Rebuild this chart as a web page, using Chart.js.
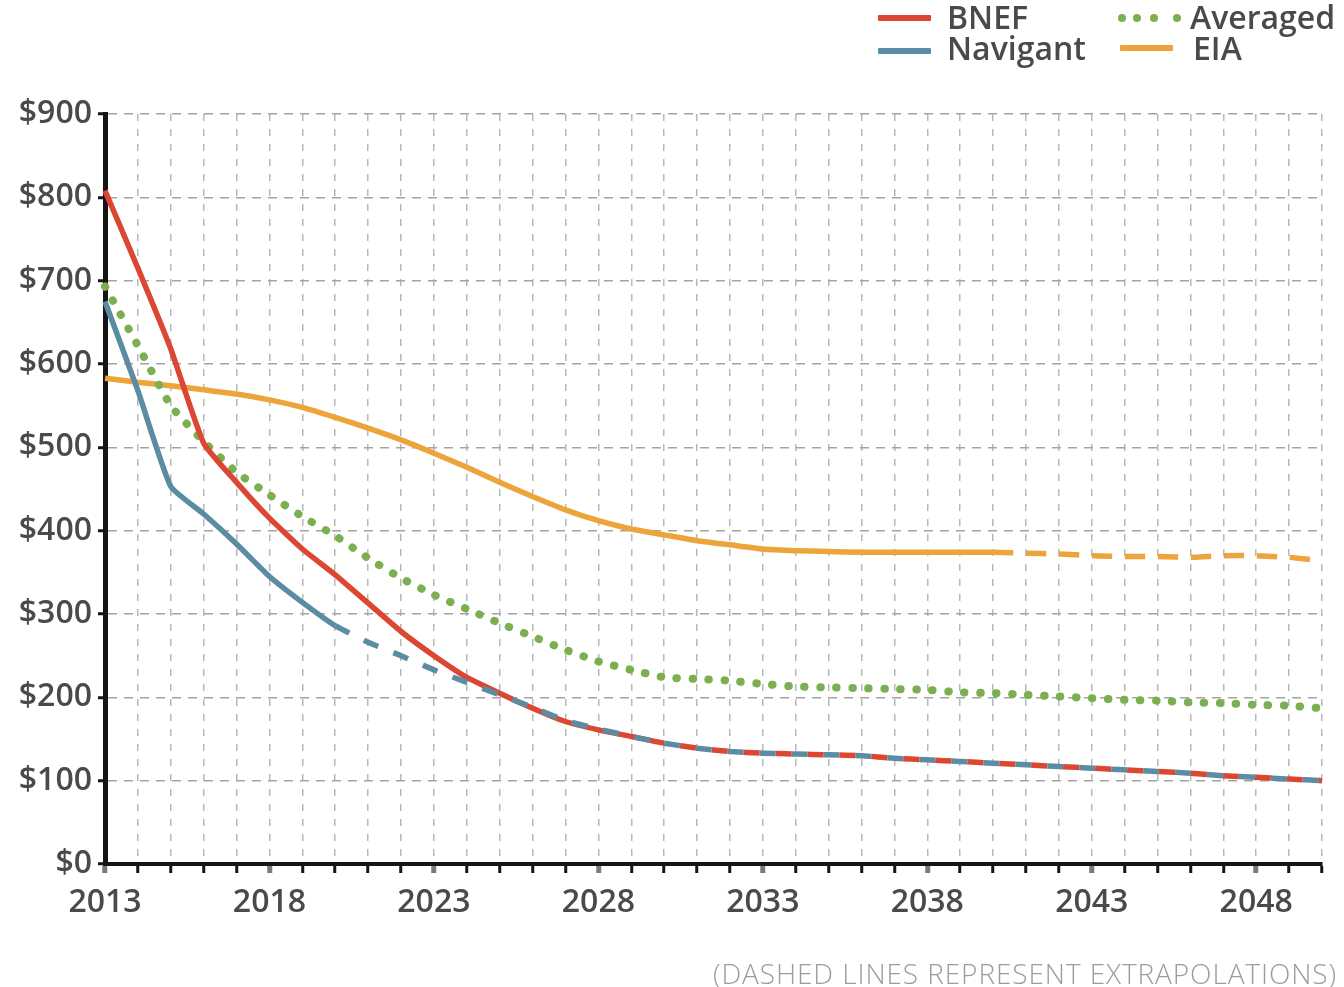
<!DOCTYPE html>
<html>
<head>
<meta charset="utf-8">
<title>Battery pack cost forecasts</title>
<script src="https://cdn.jsdelivr.net/npm/chart.js@4.4.1/dist/chart.umd.min.js"></script>
<style>
  html, body { margin: 0; padding: 0; background: #fff; }
  #wrap { position: relative; width: 1344px; height: 987px; overflow: hidden; background: #fff; }
  #chart { position: absolute; left: 0; top: 0; }
  .lg-text { position: absolute; font-family: 'Open Sans', sans-serif; font-weight: 600;
             font-size: 32px; line-height: 32px; color: #4a4a4a; white-space: nowrap; }
  .lg-line { position: absolute; height: 6px; border-radius: 1px; }
  .lg-dot { position: absolute; width: 8px; height: 8px; border-radius: 50%; }
  #note { position: absolute; right: 7px; top: 959px; font-family: 'Open Sans', sans-serif;
          font-weight: 300; font-size: 28px; line-height: 28px; letter-spacing: 0.9px;
          color: #9c9c9c; white-space: nowrap; }
</style>
</head>
<body>
<div id="wrap">
  <canvas id="chart" width="1344" height="987"></canvas>
  <div id="legend"></div>
  <div id="note">(DASHED LINES REPRESENT EXTRAPOLATIONS)</div>
</div>
<script>
// Years on the x axis
const years = [2013, 2014, 2015, 2016, 2017, 2018, 2019, 2020, 2021, 2022,
               2023, 2024, 2025, 2026, 2027, 2028, 2029, 2030, 2031, 2032,
               2033, 2034, 2035, 2036, 2037, 2038, 2039, 2040, 2041, 2042,
               2043, 2044, 2045, 2046, 2047, 2048, 2049, 2050];

// Cost per kWh, one value per year
const bnef     = [808, 715, 618, 505, 458, 415, 378, 347, 313, 279,
                  250, 224, 205, 187, 171, 161, 153, 145, 139, 135,
                  133, 132, 131, 130, 127, 125, 123, 121, 119, 117,
                  115, 113, 111, 109, 106, 104, 102, 100];
const navigant = [675, 568, 453, 420, 384, 345, 314, 286, 266, 250,
                  233, 218, 203, 188, 172, 162, 153, 145, 139, 135,
                  133, 132, 131, 130, 127, 125, 123, 121, 119, 117,
                  115, 113, 111, 109, 106, 104, 102, 100];
const averaged = [693, 622, 550, 507, 470, 443, 417, 394, 367, 343,
                  323, 306, 289, 273, 257, 243, 233, 224, 222, 220,
                  216, 213, 212, 211, 210, 209, 206, 205, 203, 201,
                  199, 197, 196, 194, 193, 191, 190, 187];
const eia      = [583, 578, 574, 569, 564, 557, 548, 536, 523, 509,
                  493, 476, 458, 441, 425, 412, 402, 395, 388, 383,
                  378, 376, 375, 374, 374, 374, 374, 374, 373, 372,
                  370, 369, 369, 368, 370, 370, 368, 364];

// First year of each extrapolated (dashed) stretch
const bnefExtrapFrom = 2030;
const navigantExtrapFrom = 2020;
const eiaExtrapFrom = 2040;

// Labelled years and value ticks
const yearLabels = [2013, 2018, 2023, 2028, 2033, 2038, 2043, 2048];
const costTicks = [0, 100, 200, 300, 400, 500, 600, 700, 800, 900];

const colors = { bnef: '#dc4733', navigant: '#5c8ca3', averaged: '#7caf4f', eia: '#eca43b' };

const tickFont = { family: "'Open Sans', sans-serif", size: 32, weight: '600' };

// Dash helper: solid before `fromYear`, dashed afterwards.
function dashAfter(fromYear, dash, offsetFn) {
  return {
    borderDash: c => years[c.p0DataIndex] >= fromYear ? dash : undefined,
    borderDashOffset: c => offsetFn ? offsetFn(years[c.p0DataIndex]) : 0
  };
}

const datasets = [
  {
    label: 'BNEF', data: bnef, borderColor: colors.bnef, borderWidth: 5.5, order: 1,
    segment: dashAfter(bnefExtrapFrom, [16, 16], y => y >= bnefExtrapFrom ? 16 : 0)
  },
  {
    label: 'Navigant', data: navigant, borderColor: colors.navigant, borderWidth: 5.5, order: 0,
    // restart the dash phase where BNEF turns dashed so the two alternate
    segment: dashAfter(navigantExtrapFrom, [16, 16], y => y >= bnefExtrapFrom ? 0.01 : 0)
  },
  {
    label: 'Averaged', data: averaged, borderColor: colors.averaged, borderWidth: 8, order: 2,
    borderDash: [0.5, 15.5], borderCapStyle: 'round'
  },
  {
    label: 'EIA', data: eia, borderColor: colors.eia, borderWidth: 5.5, order: 3,
    segment: dashAfter(eiaExtrapFrom, [20, 13])
  }
];

const chart = new Chart(document.getElementById('chart'), {
  type: 'line',
  data: { labels: years.map(String), datasets },
  options: {
    responsive: false,
    animation: false,
    events: [],
    layout: { padding: { top: 114, right: 22, bottom: 63, left: 0 } },
    elements: {
      point: { radius: 0 },
      line: { tension: 0.15, fill: false, borderJoinStyle: 'round' }
    },
    plugins: { legend: { display: false }, tooltip: { enabled: false } },
    scales: {
      x: {
        offset: false,
        afterFit: s => { s.height = 60; },
        grid: {
          color: '#b8b8b8', lineWidth: 1.5, tickLength: 9,
          tickColor: c => yearLabels.includes(years[c.index]) ? '#7a7a7a' : '#151515',
          tickWidth: c => yearLabels.includes(years[c.index]) ? 5 : 3
        },
        border: { color: '#151515', width: 4, dash: [7, 8] },
        ticks: {
          autoSkip: false, maxRotation: 0, padding: 11, color: '#4a4a4a', font: tickFont,
          callback: (v, i) => yearLabels.includes(years[i]) ? String(years[i]) : ''
        }
      },
      y: {
        min: costTicks[0], max: costTicks[costTicks.length - 1],
        afterFit: s => { s.width = 105; },
        afterBuildTicks: s => { s.ticks = costTicks.map(v => ({ value: v })); },
        grid: { color: '#a3a3a3', lineWidth: 1.5, tickLength: 7, tickColor: '#151515', tickWidth: 3 },
        border: { color: '#151515', width: 5, dash: [9, 7] },
        ticks: { padding: 6, color: '#4a4a4a', font: tickFont, callback: v => '$' + v }
      }
    }
  }
});

// Two-column legend built from the chart's datasets
const legendLayout = {
  BNEF:     { swatch: [878, 18],  text: [947, 1] },
  Navigant: { swatch: [878, 51],  text: [947, 32] },
  Averaged: { swatch: [1118, 18], text: [1190, 1] },
  EIA:      { swatch: [1120, 48], text: [1193, 32] }
};
const legend = document.getElementById('legend');
chart.data.datasets.forEach(ds => {
  const pos = legendLayout[ds.label];
  if (ds.borderDash && ds.borderDash.length) {
    [0, 15, 31.5, 55].forEach(dx => {
      const d = document.createElement('div');
      d.className = 'lg-dot';
      d.style.left = (pos.swatch[0] + dx) + 'px';
      d.style.top = (pos.swatch[1] - 4) + 'px';
      d.style.background = ds.borderColor;
      legend.appendChild(d);
    });
  } else {
    const l = document.createElement('div');
    l.className = 'lg-line';
    l.style.left = pos.swatch[0] + 'px';
    l.style.top = (pos.swatch[1] - 3) + 'px';
    l.style.width = '53px';
    l.style.background = ds.borderColor;
    legend.appendChild(l);
  }
  const t = document.createElement('div');
  t.className = 'lg-text';
  t.style.left = pos.text[0] + 'px';
  t.style.top = pos.text[1] + 'px';
  t.textContent = ds.label;
  legend.appendChild(t);
});
</script>
</body>
</html>
